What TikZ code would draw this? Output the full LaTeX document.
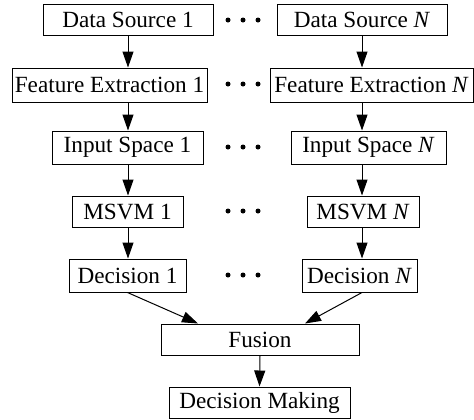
\documentclass[tikz,border=0pt]{standalone}
\usepackage{fontspec}
\setmainfont{Liberation Serif}
\usetikzlibrary{arrows.meta}

\begin{document}
\begin{tikzpicture}[
    x=0.5pt, y=-0.5pt,
    every node/.style={font=\fontsize{11.6}{14}\selectfont},
    block/.style={draw, line width=0.5pt, inner sep=0pt, minimum height=15.5pt},
    link/.style={line width=0.5pt, -{Triangle[length=8pt,width=5.5pt]}}
]
\useasboundingbox (0,0) rectangle (474,419);

% Branch 1
\node[block, minimum width=85pt] (ds1) at (128,19.5) {Data Source 1};
\node[block, minimum width=97.5pt, minimum height=17pt] (fe1) at (109.5,85) {Feature Extraction 1};
\node[block, minimum width=75.5pt, minimum height=16.5pt] (in1) at (127.5,147.5) {Input Space 1};
\node[block, minimum width=55.5pt] (ms1) at (127.5,211.5) {MSVM 1};
\node[block, minimum width=58.5pt, minimum height=16.5pt] (dc1) at (127.5,275.5) {Decision 1};

% Branch N
\node[block, minimum width=85pt] (dsN) at (362,19.5) {Data Source \textit{N}};
\node[block, minimum width=101.5pt, minimum height=17pt] (feN) at (371.5,85) {Feature Extraction \textit{N}};
\node[block, minimum width=77.5pt, minimum height=16.5pt] (inN) at (368.5,147.5) {Input Space \textit{N}};
\node[block, minimum width=56pt] (msN) at (363,211.5) {MSVM \textit{N}};
\node[block, minimum width=57.5pt, minimum height=16.5pt] (dcN) at (359.5,275.5) {Decision \textit{N}};

% Fusion
\node[block, minimum width=99pt] (fusion) at (260,339.5) {Fusion};
\node[block, minimum width=90.5pt] (making) at (259.5,402.5) {Decision Making};

% Arrows
\draw[link] (ds1.south) -- (ds1.south |- fe1.north);
\draw[link] (fe1.south -| ds1) -- (ds1 |- in1.north);
\draw[link] (in1.south -| ds1) -- (ds1 |- ms1.north);
\draw[link] (ms1.south -| ds1) -- (ds1 |- dc1.north);
\draw[link] (dsN.south) -- (dsN.south |- feN.north);
\draw[link] (feN.south -| dsN) -- (dsN |- inN.north);
\draw[link] (inN.south -| dsN) -- (dsN |- msN.north);
\draw[link] (msN.south -| dsN) -- (dsN |- dcN.north);
\draw[link] (dc1.south) -- ([xshift=-31pt]fusion.north);
\draw[link] (dcN.south -| dsN) -- ([xshift=22.5pt]fusion.north);
\draw[link] (fusion.south) -- (making.north);

% Dots
\foreach \y in {20,84,147,211,275}
    \foreach \x in {228,243,258}
        \fill (\x,\y) circle (1.25pt);

\end{tikzpicture}
\end{document}
